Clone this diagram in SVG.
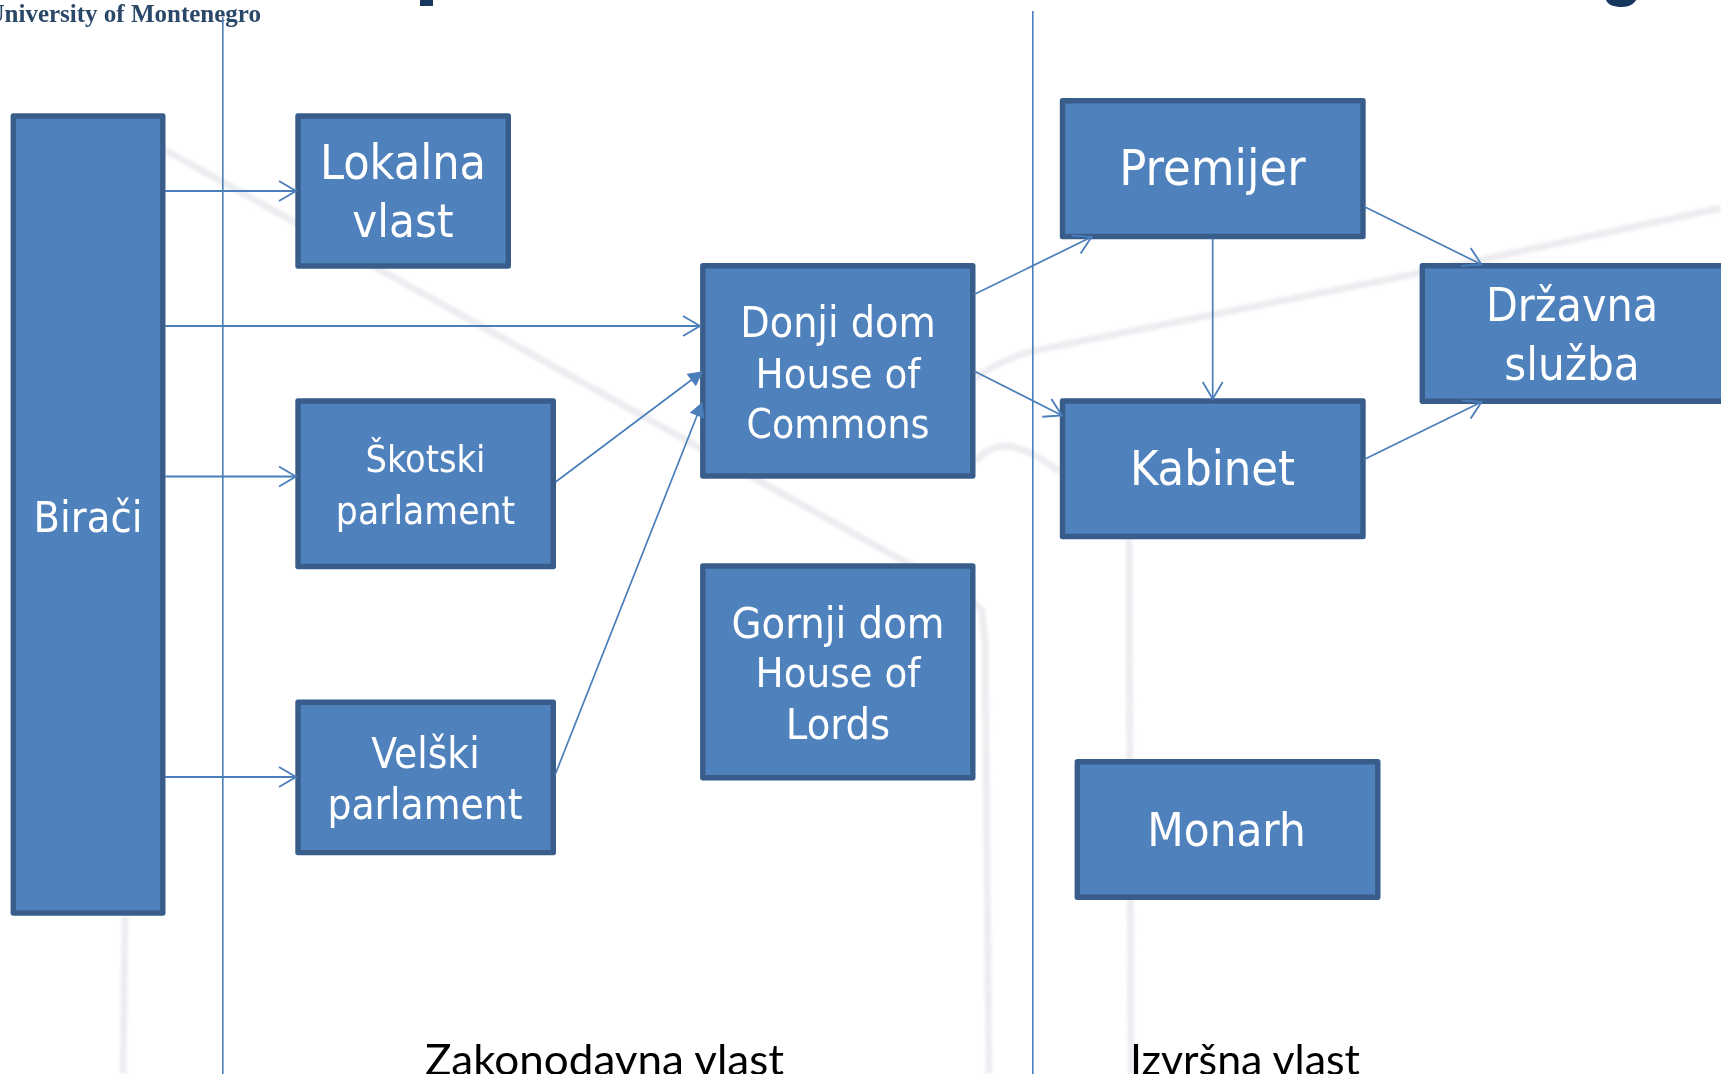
<svg xmlns="http://www.w3.org/2000/svg" width="1721" height="1074" viewBox="0 0 1721 1074">
<style>
.box{fill:#4F81BD;stroke:#385D8A;stroke-width:5.4;stroke-linejoin:round}
.t{fill:#fff;font-family:"DejaVu Sans Condensed","DejaVu Sans",sans-serif;font-stretch:condensed;text-anchor:middle}
.c{fill:none;stroke:#4A7EBB;stroke-width:1.7}
.h{stroke-width:2.2}
.v{fill:none;stroke:#4A7EBB;stroke-width:1.6}
.wm{fill:none;stroke:#E4E4EA;stroke-width:7;stroke-linejoin:round;opacity:.65}
.lab{fill:#000;font-family:"Lato","Liberation Sans",sans-serif;font-size:43px}
.open{fill:none;stroke:#4A7EBB;stroke-width:1.8}
.fill{fill:#4A7EBB;stroke:#4A7EBB;stroke-width:1}
</style>
<defs>
<marker id="ao" markerUnits="userSpaceOnUse" markerWidth="24" markerHeight="26" refX="20" refY="13" orient="auto" overflow="visible"><path class="open" d="M3,3 L20,13 L3,23"/></marker>
<marker id="af" markerUnits="userSpaceOnUse" markerWidth="18" markerHeight="18" refX="15" refY="9" orient="auto" overflow="visible"><path class="fill" d="M2,2 L15,9 L2,16 Z"/></marker>
<filter id="b" x="-5%" y="-5%" width="110%" height="110%"><feGaussianBlur stdDeviation="1.6"/></filter>
<filter id="b2" x="-5%" y="-20%" width="110%" height="140%"><feGaussianBlur stdDeviation="0.7"/></filter>
</defs>
<rect width="1721" height="1074" fill="#fff"/>
<g id="background" filter="url(#b)">
<path class="wm" d="M165,150 L860,537 L965,595 L982,610 L985,640 L989,1074"/>
<path class="wm" d="M125,917 L123,1074"/>
<path class="wm" d="M1129,538 L1131,1074"/>
<path class="wm" d="M975,379 Q995,362 1033,351 L1425,272 L1721,208"/>
<path class="wm" d="M975,461 Q990,446 1005,446 Q1025,446 1060,472" opacity=".6"/>
</g>
<text id="logo" x="261" y="22" text-anchor="end" font-family="Liberation Serif,serif" font-weight="bold" font-size="25" fill="#2C4868" filter="url(#b2)">University of Montenegro</text>
<g id="title-fragments" fill="#17375E">
<rect x="420" y="0" width="13" height="6"/>
<path d="M1606,0 C1608,5 1614,7 1622,7 C1629,7 1634,4 1636,0 Z"/>
</g>
<g id="dividers">
<line class="v" x1="222.8" y1="17" x2="222.8" y2="1074"/>
<line class="v" x1="1032.8" y1="11" x2="1032.8" y2="1074"/>
</g>
<g id="n-biraci"><rect class="box" x="13.300" y="116" width="149.500" height="797"/><text class="t" font-size="43" x="88" y="531.500">Birači</text></g>
<g id="n-lokalna"><rect class="box" x="298" y="116" width="210.300" height="150"/><text class="t" font-size="48" x="403" y="179">Lokalna</text><text class="t" font-size="47" x="403" y="237">vlast</text></g>
<g id="n-skotski"><rect class="box" x="298" y="401" width="255.300" height="165.500"/><text class="t" font-size="37.500" x="425.500" y="472">Škotski</text><text class="t" font-size="38.600" x="425.500" y="524">parlament</text></g>
<g id="n-velski"><rect class="box" x="298" y="702.300" width="255.300" height="150.300"/><text class="t" font-size="42" x="425.500" y="768">Velški</text><text class="t" font-size="42" x="425" y="819">parlament</text></g>
<g id="n-donji"><rect class="box" x="702.800" y="265.700" width="270" height="210.300"/><text class="t" font-size="42.500" x="838" y="337">Donji dom</text><text class="t" font-size="41.500" x="838" y="388">House of</text><text class="t" font-size="40.500" x="838" y="438">Commons</text></g>
<g id="n-gornji"><rect class="box" x="702.800" y="566" width="270" height="211.700"/><text class="t" font-size="43" x="838" y="638">Gornji dom</text><text class="t" font-size="41.500" x="838" y="687">House of</text><text class="t" font-size="43" x="838" y="739">Lords</text></g>
<g id="n-premijer"><rect class="box" x="1062.500" y="100.800" width="300.500" height="135.700"/><text class="t" font-size="50" x="1212.500" y="185">Premijer</text></g>
<g id="n-kabinet"><rect class="box" x="1062.500" y="401" width="300.500" height="135.500"/><text class="t" font-size="48.300" x="1212.500" y="485">Kabinet</text></g>
<g id="n-drzavna"><rect class="box" x="1422.300" y="265.700" width="310" height="135.500"/><text class="t" font-size="46" x="1572" y="321">Državna</text><text class="t" font-size="47" x="1572" y="380">služba</text></g>
<g id="n-monarh"><rect class="box" x="1077.300" y="761.700" width="300.500" height="135.600"/><text class="t" font-size="47" x="1226.500" y="846">Monarh</text></g>
<g id="connectors">
<line class="c h" x1="165" y1="191" x2="296" y2="191" marker-end="url(#ao)"/>
<line class="c h" x1="165" y1="326" x2="700" y2="326" marker-end="url(#ao)"/>
<line class="c h" x1="165" y1="476.500" x2="296" y2="476.500" marker-end="url(#ao)"/>
<line class="c h" x1="165" y1="777" x2="296" y2="777" marker-end="url(#ao)"/>
<line class="c" x1="555.500" y1="482" x2="702" y2="372" marker-end="url(#af)"/>
<line class="c" x1="555" y1="775" x2="702" y2="403" marker-end="url(#af)"/>
<line class="c" x1="974" y1="294.500" x2="1091.500" y2="237" marker-end="url(#ao)"/>
<line class="c" x1="974" y1="371" x2="1062" y2="415.500" marker-end="url(#ao)"/>
<line class="c" x1="1212.700" y1="238" x2="1212.700" y2="399" marker-end="url(#ao)"/>
<line class="c" x1="1364" y1="206.500" x2="1481.500" y2="264.500" marker-end="url(#ao)"/>
<line class="c" x1="1364" y1="459.500" x2="1481.500" y2="402" marker-end="url(#ao)"/>
</g>
<g id="labels">
<text class="lab" x="425" y="1075" textLength="359" lengthAdjust="spacingAndGlyphs">Zakonodavna vlast</text>
<text class="lab" x="1130" y="1075" textLength="230" lengthAdjust="spacingAndGlyphs">Izvršna vlast</text>
</g>
</svg>
